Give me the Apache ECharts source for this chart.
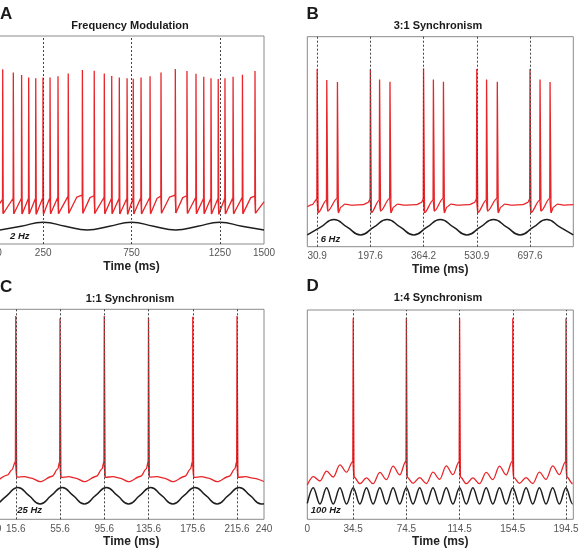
<!DOCTYPE html>
<html>
<head>
<meta charset="utf-8">
<script src="https://cdn.jsdelivr.net/npm/echarts@6.0.0/dist/echarts.min.js"></script>
<style>
  html, body { margin: 0; padding: 0; background: #fff; }
  #chart { width: 581px; height: 548px; }
</style>
</head>
<body>
<div id="chart"></div>
<script>
// y values are in % of the panel height (the y axis is hidden in the figure)

// A: frequency modulation, 2 Hz
const aTicks = [0, 250, 750, 1250, 1500];
const aMarks = [250, 750, 1250];
const aSpikeT = [21, 81, 128, 168, 208, 249, 289, 334, 392, 472, 539, 596, 638, 681, 725,
  760, 804, 855, 917, 998, 1064, 1115, 1159, 1200, 1241, 1279, 1325, 1378, 1449];
const aSpikePeak = [84, 82.5, 81.3, 80.1, 79.7, 80, 80, 80.6, 82, 83.7, 83.3, 82, 80.8, 80.1, 79.7,
  79.5, 80, 80.6, 82.5, 84.1, 83.2, 81.9, 80.4, 79.7, 79.3, 79.7, 80.4, 81.4, 83.2];
const aSpikePre = [21.5, 22, 22, 22, 22, 22.3, 22.3, 22.5, 23, 23.5, 23.2, 22.5, 22, 22, 22,
  22, 22.3, 22.5, 23, 23.5, 23.2, 22.5, 22, 22, 22, 22, 22.3, 22.5, 23];
const aSpikeTrough = [14.6, 14.5, 14.4, 14.4, 14.3, 14.4, 14.5, 14.6, 14.8, 14.8, 14.7, 14.6, 14.5, 14.4, 14.3,
  14.4, 14.5, 14.6, 14.8, 14.9, 14.7, 14.6, 14.5, 14.4, 14.3, 14.4, 14.5, 14.6, 14.8];
const aRestT = [0, 440, 515, 895, 965, 1040, 1425, 1500];
const aRestV = [19, 22.5, 22.3, 22, 22.5, 22.3, 22.3, 20.3];
const aStimT = [0, 125, 250, 375, 500, 625, 750, 875, 1000, 1125, 1250, 1375, 1500];
const aStimV = [6.7, 8.55, 10.4, 8.55, 6.7, 8.55, 10.4, 8.55, 6.7, 8.55, 10.4, 8.55, 6.7];

// B: 3:1 synchronism, 6 Hz
const bTicks = [30.9, 197.6, 364.2, 530.9, 697.6];
const bMarks = [30.9, 197.6, 364.2, 530.9, 697.6];
const bSpikeT = [30.9, 61, 94.4, 197.6, 226.4, 259, 364.2, 395, 426.5, 530.9, 561.6, 595.2, 697.6, 729.1, 760.5];
const bSpikePeak = [84.6, 79.4, 78.4, 84.6, 79.6, 78.6, 84.9, 79.6, 78.6, 84.6, 79.6, 78.6, 84.6, 79.6, 78.4];
const bSpikePre = [22.6, 22.2, 23, 22.6, 22.2, 23, 22.6, 22.2, 23, 22.6, 22.2, 23, 22.6, 22.2, 23];
const bSpikeTrough = [16.2, 17, 16.2, 16.2, 17, 16.2, 16.2, 17, 16.2, 16.2, 17, 16.2, 16.2, 17, 16.2];
const bRestT = [0, 15, 105, 118, 140, 175, 190, 270, 283, 305, 342, 357, 437, 450, 472, 508, 523,
  606, 619, 641, 675, 690, 771, 784, 806, 833.3];
const bRestV = [19, 20, 18.8, 20.3, 19.8, 20, 21, 18.8, 20.3, 19.8, 20, 21, 18.8, 20.3, 19.8, 20, 21,
  18.8, 20.3, 19.8, 20, 21, 18.8, 20.3, 19.8, 20];
const bStimT = [0, 41.7, 83.3, 125, 166.7, 208.3, 250, 291.7, 333.3, 375, 416.7, 458.3, 500,
  541.7, 583.3, 625, 666.7, 708.3, 750, 791.7, 833.3];
const bStimV = [5.6, 9.3, 13, 9.3, 5.6, 9.3, 13, 9.3, 5.6, 9.3, 13, 9.3, 5.6,
  9.3, 13, 9.3, 5.6, 9.3, 13, 9.3, 5.6];

// C: 1:1 synchronism, 25 Hz
const cTicks = [0, 15.6, 55.6, 95.6, 135.6, 175.6, 215.6, 240];
const cMarks = [15.6, 55.6, 95.6, 135.6, 175.6, 215.6];
const cSpikeT = [15.6, 55.6, 95.6, 135.6, 175.6, 215.6];
const cSpikePeak = [96.8, 95.7, 96.8, 96.0, 96.5, 96.8];
const cSpikePre = [27.4, 27.4, 27.6, 27.4, 27.5, 27.4];
const cSpikeTrough = [20.1, 19.9, 20, 20.1, 19.9, 20];
const cRestT = [0, 8, 12, 23.6, 29.6, 37.6, 48.6, 53.6, 63.6, 69.6, 77.6, 88.6, 93.6,
  103.6, 109.6, 117.6, 128.6, 133.6, 143.6, 149.6, 157.6, 168.6, 173.6,
  183.6, 189.6, 197.6, 208.6, 213.6, 223.6, 229.6, 240];
const cRestV = [18.7, 21, 23.5, 20.3, 19.6, 17.9, 20.5, 24, 20.3, 19.6, 17.9, 20.5, 24,
  20.3, 19.6, 17.9, 20.5, 24, 20.3, 19.6, 17.9, 20.5, 24,
  20.3, 19.6, 17.9, 20.5, 24, 20.3, 19.6, 18];
const cStimT = [0, 7.6, 17.6, 27.6, 37.6, 47.6, 57.6, 67.6, 77.6, 87.6, 97.6, 107.6, 117.6, 127.6,
  137.6, 147.6, 157.6, 167.6, 177.6, 187.6, 197.6, 207.6, 217.6, 227.6, 237.6, 240];
const cStimV = [7.6, 11.25, 15.2, 11.25, 7.3, 11.25, 15.2, 11.25, 7.3, 11.25, 15.2, 11.25, 7.3, 11.25,
  15.2, 11.25, 7.3, 11.25, 15.2, 11.25, 7.3, 11.25, 15.2, 11.25, 7.3, 7.4];

// D: 1:4 synchronism, 100 Hz
const dTicks = [0, 34.5, 74.5, 114.5, 154.5, 194.5];
const dMarks = [34.5, 74.5, 114.5, 154.5, 194.5];
const dSpikeT = [34.5, 74.5, 114.5, 154.5, 194.5];
const dSpikePeak = [96, 96.2, 96, 96.1, 96];
const dSpikePre = [27.6, 27.8, 27.6, 27.8, 27.6];
const dSpikeTrough = [20.2, 20, 20.2, 20, 20.2];
const dRestT = [0, 4.5, 9.5, 14.5, 19.5, 24.5, 29.5,
  39.5, 44.5, 49.5, 54.5, 59.5, 64.5, 69.5,
  79.5, 84.5, 89.5, 94.5, 99.5, 104.5, 109.5,
  119.5, 124.5, 129.5, 134.5, 139.5, 144.5, 149.5,
  159.5, 164.5, 169.5, 174.5, 179.5, 184.5, 189.5,
  199.5, 200];
const dRestV = [16.4, 20.4, 18.3, 23, 20.2, 26, 22.5,
  17, 19.8, 17, 22.4, 19, 25.4, 21.2,
  17.2, 19.9, 17.1, 22.5, 19.1, 25.5, 21.3,
  17, 19.8, 17, 22.4, 19, 25.4, 21.2,
  17.2, 19.9, 17.1, 22.5, 19.1, 25.5, 21.3,
  17, 17];
const dStimT = [0, 4.5, 9.5, 14.5, 19.5, 24.5, 29.5, 34.5, 39.5, 44.5, 49.5, 54.5, 59.5, 64.5, 69.5,
  74.5, 79.5, 84.5, 89.5, 94.5, 99.5, 104.5, 109.5, 114.5, 119.5, 124.5, 129.5, 134.5, 139.5,
  144.5, 149.5, 154.5, 159.5, 164.5, 169.5, 174.5, 179.5, 184.5, 189.5, 194.5, 199.5, 200];
const dStimV = [7.6, 15.1, 7.3, 15.1, 7.3, 15.1, 7.3, 15.1, 7.3, 15.1, 7.3, 15.1, 7.3, 15.1, 7.3,
  15.1, 7.3, 15.1, 7.3, 15.1, 7.3, 15.1, 7.3, 15.1, 7.3, 15.1, 7.3, 15.1, 7.3,
  15.1, 7.3, 15.1, 7.3, 15.1, 7.3, 15.1, 7.3, 15.1, 7.3, 15.1, 7.3, 7.3];

const RED = '#e8262a';
const BLACK = '#1e1e1e';
const FONT = '"Liberation Sans", Arial, sans-serif';

function spikeData(t, peak, pre, trough, dPre, dPost) {
  const out = [];
  t.forEach((s, i) => {
    out.push([s - dPre, pre[i]], [s, peak[i]], [s + dPost, trough[i]], [s + dPost, '-']);
  });
  return out;
}

function restData(t, pre, trough, restT, restV, dPre, dPost) {
  const pts = restT.map((x, i) => [x, restV[i]]);
  t.forEach((s, i) => pts.push([s - dPre, pre[i]], [s + dPost, trough[i]]));
  return pts.sort((a, b) => a[0] - b[0]);
}

function pairs(xs, ys) {
  return xs.map((x, i) => [x, ys[i]]);
}

const panels = [
  { rect: { left: -1, top: 36, width: 265, height: 208 }, max: 1500, ticks: aTicks, marks: aMarks,
    spikeT: aSpikeT, peak: aSpikePeak, pre: aSpikePre, trough: aSpikeTrough,
    restT: aRestT, restV: aRestV, stimT: aStimT, stimV: aStimV,
    smooth: false, stimSmooth: 0.5, dPre: 1, dPost: 3 },
  { rect: { left: 307.3, top: 36.7, width: 266, height: 210 }, max: 833.3, ticks: bTicks, marks: bMarks,
    spikeT: bSpikeT, peak: bSpikePeak, pre: bSpikePre, trough: bSpikeTrough,
    restT: bRestT, restV: bRestV, stimT: bStimT, stimV: bStimV,
    smooth: 0.3, stimSmooth: 0.5, dPre: 1, dPost: 3 },
  { rect: { left: -1.5, top: 309.3, width: 265.5, height: 210 }, max: 240, ticks: cTicks, marks: cMarks,
    spikeT: cSpikeT, peak: cSpikePeak, pre: cSpikePre, trough: cSpikeTrough,
    restT: cRestT, restV: cRestV, stimT: cStimT, stimV: cStimV,
    smooth: 0.3, stimSmooth: 0.5, dPre: 0.3, dPost: 0.8 },
  { rect: { left: 307.3, top: 310, width: 266, height: 209.3 }, max: 200, ticks: dTicks, marks: dMarks,
    spikeT: dSpikeT, peak: dSpikePeak, pre: dSpikePre, trough: dSpikeTrough,
    restT: dRestT, restV: dRestV, stimT: dStimT, stimV: dStimV,
    smooth: 0.36, stimSmooth: 0.37, dPre: 0.3, dPost: 0.6 }
];

const grid = [], xAxis = [], yAxis = [], series = [];
panels.forEach((p, k) => {
  grid.push(Object.assign({ show: true, borderColor: '#8a8a8a', borderWidth: 1,
    backgroundColor: 'transparent', containLabel: false, outerBoundsMode: 'none' }, p.rect));
  xAxis.push({
    type: 'value', gridIndex: k, min: 0, max: p.max,
    name: 'Time (ms)', nameLocation: 'middle', nameGap: 16.5,
    nameTextStyle: { fontFamily: FONT, fontSize: 12, fontWeight: 'bold', color: '#222' },
    axisLine: { show: false }, axisTick: { show: false }, splitLine: { show: false },
    axisLabel: { customValues: p.ticks, formatter: v => String(v), margin: 4.5,
      fontFamily: FONT, fontSize: 10, color: '#555' }
  });
  yAxis.push({ type: 'value', gridIndex: k, min: 0, max: 100, show: false });
  series.push({
    type: 'line', xAxisIndex: k, yAxisIndex: k, symbol: 'none', connectNulls: false,
    lineStyle: { color: RED, width: 1.3 },
    data: spikeData(p.spikeT, p.peak, p.pre, p.trough, p.dPre, p.dPost)
  });
  series.push({
    type: 'line', xAxisIndex: k, yAxisIndex: k, symbol: 'none', smooth: p.smooth, smoothMonotone: 'x',
    lineStyle: { color: RED, width: 1.3 },
    data: restData(p.spikeT, p.pre, p.trough, p.restT, p.restV, p.dPre, p.dPost)
  });
  series.push({
    type: 'line', xAxisIndex: k, yAxisIndex: k, symbol: 'none', smooth: p.stimSmooth,
    lineStyle: { color: BLACK, width: 1.5 },
    data: pairs(p.stimT, p.stimV),
    markLine: {
      silent: true, symbol: ['none', 'none'], label: { show: false },
      lineStyle: { color: '#444', width: 1, type: [2, 2] },
      data: p.marks.map(m => ({ xAxis: m }))
    }
  });
});

function txt(text, x, y, font, align) {
  return { type: 'text', x: x, y: y, silent: true,
    style: { text: text, font: font, fill: '#1a1a1a', textAlign: align, align: align,
      textVerticalAlign: 'middle', verticalAlign: 'middle' } };
}
const letterFont = 'bold 17px ' + FONT;
const titleFont = 'bold 11px ' + FONT;
const hzFont = 'italic bold 9.5px ' + FONT;

const chart = echarts.init(document.getElementById('chart'), null, { renderer: 'canvas' });
chart.setOption({
  backgroundColor: '#fff',
  animation: false,
  grid: grid,
  xAxis: xAxis,
  yAxis: yAxis,
  series: series,
  graphic: [
    txt('A', 0, 14.5, letterFont, 'left'),
    txt('B', 306.5, 14.5, letterFont, 'left'),
    txt('C', 0, 287, letterFont, 'left'),
    txt('D', 306.5, 286, letterFont, 'left'),
    txt('Frequency Modulation', 130, 25.5, titleFont, 'center'),
    txt('3:1 Synchronism', 438, 25.5, titleFont, 'center'),
    txt('1:1 Synchronism', 130, 298.5, titleFont, 'center'),
    txt('1:4 Synchronism', 438, 298, titleFont, 'center'),
    txt('2 Hz', 10, 236, hzFont, 'left'),
    txt('6 Hz', 320.7, 239.5, hzFont, 'left'),
    txt('25 Hz', 17.3, 510, hzFont, 'left'),
    txt('100 Hz', 310.7, 510.7, hzFont, 'left')
  ]
});
</script>
</body>
</html>
